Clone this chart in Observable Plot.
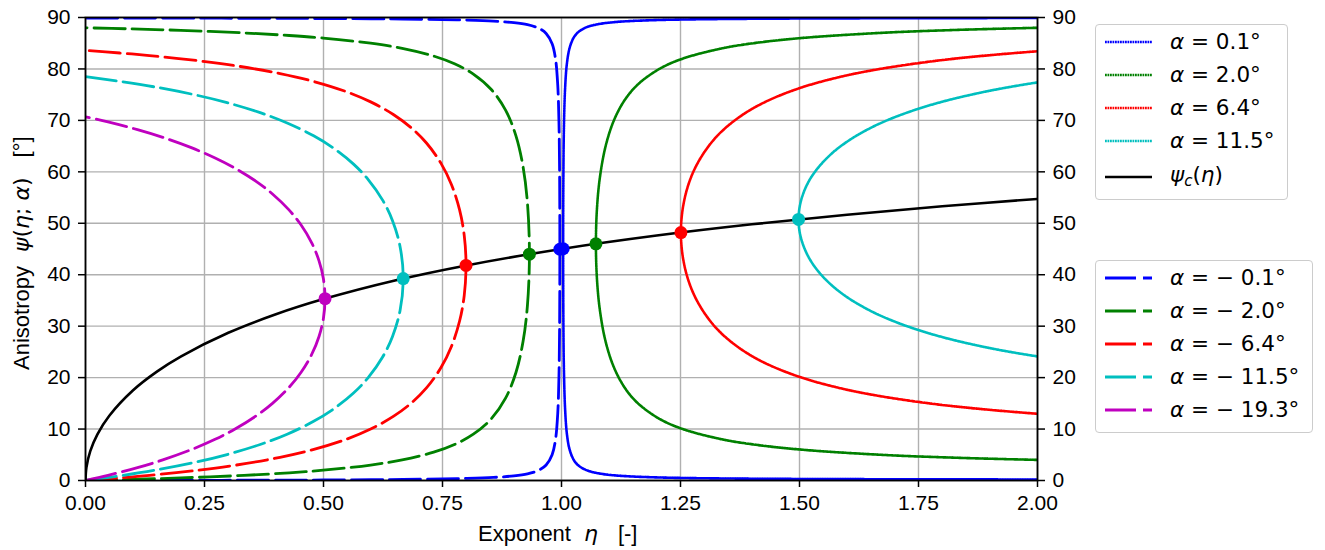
<!DOCTYPE html>
<html><head><meta charset="utf-8">
<script src="https://cdn.jsdelivr.net/npm/d3@7"></script>
<script src="https://cdn.jsdelivr.net/npm/@observablehq/plot@0.6"></script>
<style>
body{margin:0;background:#fff}
#wrap{position:relative;width:1325px;height:550px;overflow:hidden}
.box{position:absolute;border:1.3px solid #cccccc;border-radius:4px;background:rgba(255,255,255,0.8);box-sizing:border-box}
.lg{position:absolute;font-family:'DejaVu Sans',sans-serif;font-size:21.5px;line-height:1;white-space:pre;color:#000;transform:translateY(-52%)}
.ln{position:absolute}
</style>
</head>
<body>
<div id="wrap"><div id="chart"></div></div>
<script>
// ---------- data ----------
// alpha = +0.1
const etaP01   = [2.2048,2.0000,1.8333,1.6667,1.5000,1.4000,1.3333,1.2500,1.2000,1.1429,1.1111,1.0834,1.0625,1.0477,1.0345,1.0257,1.0171,1.0114,1.0075,1.0050,1.0039,1.0035];
const psiLoP01 = [0.183,0.2,0.22,0.25,0.3,0.35,0.4,0.5,0.6,0.8,1,1.3,1.7,2.2,3,4,6,9,14,22,32,45.05];
const psiUpP01 = [89.917,89.9,89.88,89.85,89.8,89.75,89.7,89.6,89.5,89.3,89.1,88.8,88.4,87.9,87.1,86.1,84.1,81.1,76.1,68.1,58.1,45.05];
// alpha = +2.0
const etaP20   = [2.3357,2.1789,2.0024,1.8026,1.6694,1.5031,1.4034,1.3372,1.2546,1.2055,1.1606,1.1331,1.1101,1.0927,1.0808,1.0746,1.0723];
const psiLoP20 = [3.5,3.7,4,4.5,5,6,7,8,10,12,15,18,22,27,33,39,46];
const psiUpP20 = [88.5,88.3,88,87.5,87,86,85,84,82,80,77,74,70,65,59,53,46];
// alpha = +6.4
const etaP64   = [2.2796,2.1678,2.0744,1.9953,1.8686,1.7717,1.6629,1.5829,1.5045,1.4351,1.3856,1.3429,1.3124,1.2843,1.2662,1.2548,1.2509];
const psiLoP64 = [11.5,12,12.5,13,14,15,16.5,18,20,22.5,25,28,31,35,39,43.5,48.2];
const psiUpP64 = [84.9,84.4,83.9,83.4,82.4,81.4,79.9,78.4,76.4,73.9,71.4,68.4,65.4,61.4,57.4,52.9,48.2];
// alpha = +11.5
const etaP115   = [2.1309,2.0864,2.0083,1.9423,1.8859,1.8154,1.7580,1.6968,1.6486,1.6021,1.5670,1.5365,1.5158,1.5021,1.4980];
const psiLoP115 = [22.5,23,24,25,26,27.5,29,31,33,35.5,38,41,44,47.5,50.75];
const psiUpP115 = [79,78.5,77.5,76.5,75.5,74,72.5,70.5,68.5,66,63.5,60.5,57.5,54,50.75];
// alpha = -0.1
const etaM01   = [0,0.0476,0.0909,0.1667,0.2857,0.4118,0.5000,0.6000,0.6667,0.7500,0.8000,0.8571,0.9000,0.9285,0.9523,0.9677,0.9803,0.9875,0.9921,0.9946,0.9960,0.9965];
const psiLoM01 = [0,0.005,0.01,0.02,0.04,0.07,0.1,0.15,0.2,0.3,0.4,0.6,0.9,1.3,2,3,5,8,13,20,30,44.95];
const psiUpM01 = [89.9,89.895,89.89,89.88,89.86,89.83,89.8,89.75,89.7,89.6,89.5,89.3,89,88.6,87.9,86.9,84.9,81.9,76.9,69.9,59.9,44.95];
// alpha = -2.0
const etaM20   = [0,0.0909,0.1999,0.3331,0.4281,0.4994,0.5990,0.6653,0.7314,0.7752,0.8148,0.8525,0.8825,0.9043,0.9192,0.9284,0.9326];
const psiLoM20 = [0,0.2,0.5,1,1.5,2,3,4,5.5,7,9,12,16,21,27,34,44];
const psiUpM20 = [88,87.8,87.5,87,86.5,86,85,84,82.5,81,79,76,72,67,61,54,44];
// alpha = -6.4
const etaM64   = [0,0.0721,0.1344,0.2365,0.3166,0.4087,0.4780,0.5474,0.5991,0.6475,0.6837,0.7163,0.7472,0.7685,0.7859,0.7957,0.7994];
const psiLoM64 = [0,0.5,1,2,3,4.5,6,8,10,12.5,15,18,22,26,31,36,41.8];
const psiUpM64 = [83.6,83.1,82.6,81.6,80.6,79.1,77.6,75.6,73.6,71.1,68.6,65.6,61.6,57.6,52.6,47.6,41.8];
// alpha = -11.5
const etaM115   = [0,0.0787,0.1455,0.2283,0.2954,0.3670,0.4236,0.4793,0.5227,0.5631,0.5939,0.6242,0.6450,0.6608,0.6675];
const psiLoM115 = [0,1,2,3.5,5,7,9,11.5,14,17,20,24,28,33,39.25];
const psiUpM115 = [78.5,77.5,76.5,75,73.5,71.5,69.5,67,64.5,61.5,58.5,54.5,50.5,45.5,39.25];
// alpha = -19.3
const etaM193   = [0,0.0472,0.1092,0.1624,0.2223,0.2723,0.3142,0.3576,0.3928,0.4265,0.4526,0.4752,0.4906,0.4998,0.5032];
const psiLoM193 = [0,1,2.5,4,6,8,10,12.5,15,18,21,24.5,28,31.5,35.35];
const psiUpM193 = [70.7,69.7,68.2,66.7,64.7,62.7,60.7,58.2,55.7,52.7,49.7,46.2,42.7,39.2,35.35];
// critical curve psi_c(eta)
const etaC = [0,0.002,0.01,0.025,0.05,0.1,0.15,0.2,0.3,0.4,0.5,0.65,0.8,1,1.2,1.4,1.6,1.8,2];
const psiC = [0,2.56,5.71,8.98,12.60,17.55,21.17,24.09,28.71,32.31,35.26,38.88,41.81,45.00,47.61,49.80,51.67,53.30,54.74];
// critical points
const markerEta = [1.0035,1.0723,1.2509,1.4980,0.9965,0.9326,0.7994,0.6675,0.5032];
const markerPsi = [45.05,46,48.2,50.75,44.95,44,41.8,39.25,35.35];
// legend labels & ticks
const posLabels = ["0.1°","2.0°","6.4°","11.5°"];
const negLabels = ["0.1°","2.0°","6.4°","11.5°","19.3°"];
const xTicks = [0,0.25,0.5,0.75,1,1.25,1.5,1.75,2];
const yTicks = [0,10,20,30,40,50,60,70,80,90];

// ---------- styles ----------
const colPos = ["#0000ff","#008000","#ff0000","#00bfbf"];
const colNeg = ["#0000ff","#008000","#ff0000","#00bfbf","#bf00bf"];
const markerCol = ["#0000ff","#008000","#ff0000","#00bfbf","#0000ff","#008000","#ff0000","#00bfbf","#bf00bf"];
const DOT = "1.8,0.7", DASH = "31,7";

const posSeries = [[etaP01,psiLoP01,psiUpP01],[etaP20,psiLoP20,psiUpP20],[etaP64,psiLoP64,psiUpP64],[etaP115,psiLoP115,psiUpP115]];
const negSeries = [[etaM01,psiLoM01,psiUpM01],[etaM20,psiLoM20,psiUpM20],[etaM64,psiLoM64,psiUpM64],[etaM115,psiLoM115,psiUpM115],[etaM193,psiLoM193,psiUpM193]];

function path([eta, lo, up]) {
  const rows = [];
  for (let i = 0; i < eta.length; i++) rows.push({eta: eta[i], psi: lo[i]});
  for (let i = eta.length - 2; i >= 0; i--) rows.push({eta: eta[i], psi: up[i]});
  return rows;
}

const lineMarks = [];
negSeries.forEach((s, k) => lineMarks.push(Plot.line(path(s), {x: "eta", y: "psi", stroke: colNeg[k], strokeWidth: 2.8, strokeDasharray: DASH, curve: "catmull-rom", clip: true})));
posSeries.forEach((s, k) => lineMarks.push(Plot.line(path(s), {x: "eta", y: "psi", stroke: colPos[k], strokeWidth: 2.6, strokeDasharray: DOT, curve: "catmull-rom", clip: true})));

const cRows = etaC.map((e, i) => ({eta: e, psi: psiC[i]}));
const mRows = markerEta.map((e, i) => ({eta: e, psi: markerPsi[i], c: markerCol[i]}));

const chart = Plot.plot({
  width: 1325, height: 550,
  marginLeft: 85, marginRight: 288, marginTop: 17, marginBottom: 70,
  style: {fontFamily: "'Liberation Sans', Arial, sans-serif", fontSize: "21px", background: "white", color: "black", overflow: "visible"},
  x: {domain: [0, 2]},
  y: {domain: [0, 90]},
  marks: [
    Plot.gridX(xTicks, {stroke: "#b0b0b0", strokeOpacity: 1, strokeWidth: 1.4}),
    Plot.gridY(yTicks, {stroke: "#b0b0b0", strokeOpacity: 1, strokeWidth: 1.4}),
    ...lineMarks,
    Plot.line(cRows, {x: "eta", y: "psi", stroke: "black", strokeWidth: 2.6, curve: "catmull-rom", clip: true}),
    Plot.dot(mRows, {x: "eta", y: "psi", fill: d => d.c, r: 6.5, stroke: null}),
    Plot.frame({stroke: "black", strokeWidth: 1.8}),
    Plot.axisX(xTicks, {tickSize: 7, tickPadding: 8, strokeWidth: 1.5, tickFormat: d => d.toFixed(2), label: null}),
    Plot.axisY(yTicks, {anchor: "left", tickSize: 7, tickPadding: 8, strokeWidth: 1.5, label: null}),
    Plot.axisY(yTicks, {anchor: "right", tickSize: 7, tickPadding: 8, strokeWidth: 1.5, label: null})
  ]
});
document.getElementById("chart").appendChild(chart);

// ---------- axis titles ----------
const svg = d3.select(chart);
const MATH = "'DejaVu Sans', sans-serif";
const xl = svg.append("text").attr("x", 478).attr("y", 541).attr("font-size", 22).attr("fill", "black").attr("text-anchor", "start");
xl.append("tspan").text("Exponent");
xl.append("tspan").attr("dx", 13).attr("font-family", MATH).attr("font-style", "italic").text("η");
xl.append("tspan").attr("dx", 20).text("[-]");

const yl = svg.append("text").attr("transform", "translate(29,370) rotate(-90)").attr("font-size", 22).attr("fill", "black").attr("text-anchor", "start");
yl.append("tspan").text("Anisotropy");
const m = yl.append("tspan").attr("dx", 14).attr("font-family", MATH);
m.append("tspan").attr("font-style", "italic").text("ψ");
m.append("tspan").text("(");
m.append("tspan").attr("font-style", "italic").text("η");
m.append("tspan").text("; ");
m.append("tspan").attr("font-style", "italic").text("α");
m.append("tspan").text(")");
yl.append("tspan").attr("dx", 20).text("[°]");

// ---------- legends ----------
const wrap = document.getElementById("wrap");
function box(l, t, w, h) {
  const b = document.createElement("div"); b.className = "box";
  Object.assign(b.style, {left: l + "px", top: t + "px", width: w + "px", height: h + "px"});
  wrap.appendChild(b);
}
function item(y, color, dash, html) {
  const s = document.createElementNS("http://www.w3.org/2000/svg", "svg");
  s.setAttribute("class", "ln"); s.setAttribute("width", 50); s.setAttribute("height", 10);
  Object.assign(s.style, {left: "1104px", top: (y - 5) + "px"});
  const l = document.createElementNS("http://www.w3.org/2000/svg", "line");
  l.setAttribute("x1", 1); l.setAttribute("x2", 48); l.setAttribute("y1", 5); l.setAttribute("y2", 5);
  l.setAttribute("stroke", color); l.setAttribute("stroke-width", dash === DASH ? 2.8 : 2.6);
  if (dash) l.setAttribute("stroke-dasharray", dash);
  s.appendChild(l); wrap.appendChild(s);
  const t = document.createElement("div"); t.className = "lg";
  t.style.left = "1170px"; t.style.top = y + "px"; t.innerHTML = html;
  wrap.appendChild(t);
}
box(1095, 24, 193, 176);
posLabels.forEach((lab, k) => item(42 + 33 * k, colPos[k], DOT, "<i>α</i> = " + lab));
item(177, "black", null, "<i>ψ</i><sub style='font-size:15px;font-style:italic;vertical-align:-4px'>c</sub>(<i>η</i>)");
box(1095, 260, 218, 173);
negLabels.forEach((lab, k) => item(278 + 33 * k, colNeg[k], DASH, "<i>α</i> = − " + lab));
</script>
</body></html>
